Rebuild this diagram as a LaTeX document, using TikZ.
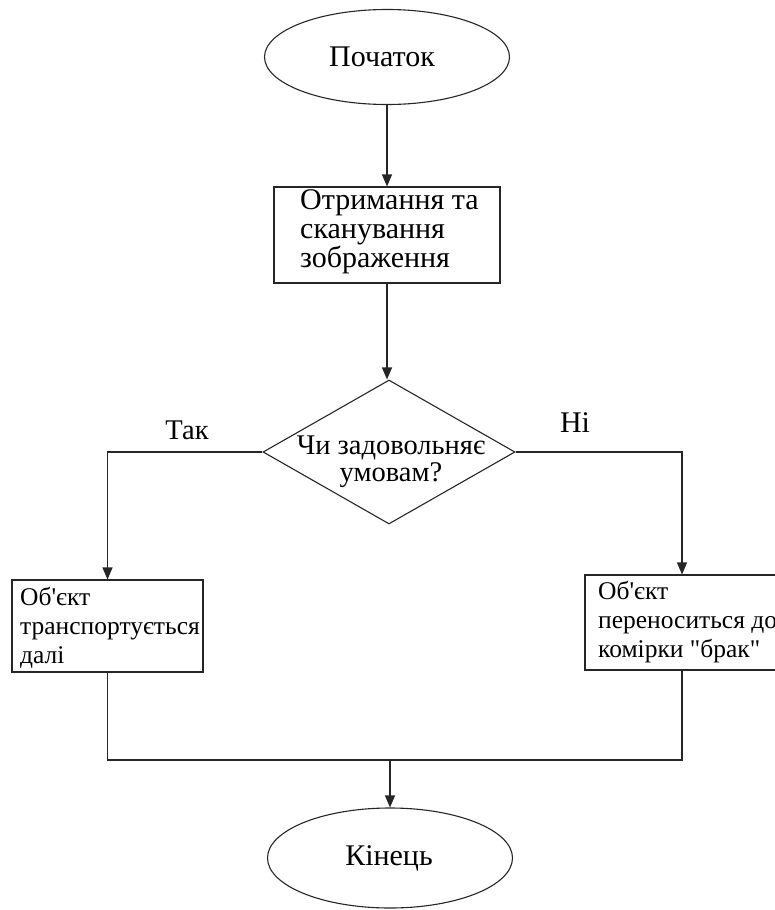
\documentclass[tikz,border=0pt]{standalone}
\usepackage{fontspec}
\setmainfont{Liberation Serif}[Ligatures=TeXOff]
\usetikzlibrary{shapes.geometric,arrows.meta}

\tikzset{
  line/.style={draw=black!85, line width=1.1pt},
  flow/.style={line, -{Triangle[length=12pt,width=10pt]}},
  oval/.style={ellipse, line, inner sep=0pt},
  stepbox/.style={rectangle, line, inner sep=0pt},
  choice/.style={diamond, line, inner sep=0pt},
  txt/.style={inner sep=0pt, align=left},
  big/.style={font=\fontsize{30}{29}\selectfont},
  mid/.style={font=\fontsize{28.5}{27}\selectfont},
  small/.style={font=\fontsize{25.5}{29}\selectfont}
}

\begin{document}
\begin{tikzpicture}[x=1pt, y=-1pt]
  \useasboundingbox (0,0) rectangle (775,910);
  \clip (0,0) rectangle (775,910);

  % terminals
  \node[oval, minimum width=245pt, minimum height=95pt] (start) at (387,57) {};
  \node[big, txt] (startt) at (382,57) {Початок};

  % scanning step
  \node[stepbox, minimum width=226pt, minimum height=96pt] (scan) at (387,235) {};
  \node[big, txt, anchor=west] (scant) at (300,232) {Отримання та\\сканування\\зображення};

  % decision
  \node[choice, minimum width=252pt, minimum height=144pt] (check) at (389,452) {};
  \node[mid, txt, align=center] (checkt) at (391,462) {Чи задовольняє\\умовам?};

  % outcomes
  \node[stepbox, minimum width=191pt, minimum height=92pt] (pass) at (107.5,626) {};
  \node[small, txt, anchor=west] (passt) at (20,628) {Об'єкт\\транспортується\\далі};

  \node[stepbox, minimum width=194pt, minimum height=95pt] (reject) at (682,622.5) {};
  \node[small, txt, anchor=west] (rejectt) at (598,622) {Об'єкт\\переноситься до\\комірки "брак"};

  \node[oval, minimum width=245pt, minimum height=100pt] (stop) at (390,858) {};
  \node[big, txt] (stopt) at (389,858) {Кінець};

  % branch labels
  \node[mid, txt] (yes) at (187,430) {Так};
  \node[font=\fontsize{30}{30}\selectfont, txt] (no) at (575,423) {Ні};

  % connectors
  \coordinate (merge) at (390,760);
  \draw[flow] (start.south) -- (scan.north);
  \draw[flow] (scan.south) -- (scan.south |- check.north);
  \draw[flow] (check.west) -| (pass.north);
  \draw[flow] (check.east) -| (reject.north);
  \draw[line] (pass.south) |- (merge) -| (reject.south);
  \draw[flow] (merge) -- (stop.north);
\end{tikzpicture}
\end{document}
